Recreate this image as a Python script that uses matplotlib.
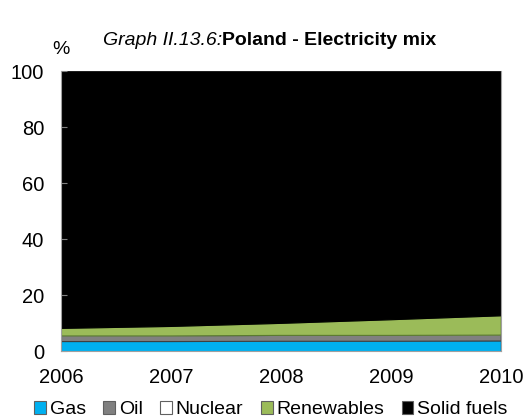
import matplotlib.pyplot as plt
from matplotlib.patches import Patch
import numpy as np

plt.rcParams['font.family'] = ['Liberation Sans', 'DejaVu Sans']

years = [2006, 2007, 2008, 2009, 2010]
gas = [3.6, 3.6, 3.7, 3.7, 3.8]
oil = [2.0, 2.0, 2.1, 2.1, 2.1]
nuclear = [0.0, 0.0, 0.0, 0.0, 0.0]
renewables = [2.7, 3.4, 4.3, 5.6, 6.9]
solid = [100 - a - b - c - d for a, b, c, d in zip(gas, oil, nuclear, renewables)]

labels = ['Gas', 'Oil', 'Nuclear', 'Renewables', 'Solid fuels']
colors = ['#00b0f0', '#808080', '#ffffff', '#9bbb59', '#000000']
edges = ['#0070a0', '#404040', '#808080', '#5a7a30', '#000000']

fig = plt.figure(figsize=(5.26, 4.19), dpi=100)
ax = fig.add_axes([0.116, 0.162, 0.836, 0.668])

polys = ax.stackplot(years, gas, oil, nuclear, renewables, solid, colors=colors)
for p, e in zip(polys, edges):
    p.set_edgecolor(e)
    p.set_linewidth(0.8)

ax.set_xlim(2006, 2010)
ax.set_ylim(0, 100)
ax.set_xticks(years)
ax.set_yticks([0, 20, 40, 60, 80, 100])
ax.tick_params(axis='both', labelsize=14.5, direction='in', length=4, color='#808080')
ax.tick_params(axis='y', pad=12)
ax.tick_params(axis='x', length=0, pad=12)
for s in ax.spines.values():
    s.set_color('#a0a0a0')
ax.spines['top'].set_visible(False)

fig.text(0.099, 0.87, '%', fontsize=14)
fig.text(0.422, 0.893, 'Graph II.13.6:', fontsize=14, style='italic', ha='right')
fig.text(0.422, 0.893, 'Poland - Electricity mix', fontsize=14, weight='bold', ha='left')

handles = [Patch(facecolor=c, edgecolor='#606060', linewidth=0.8) for c in colors]
fig.legend(handles, labels, loc='lower center', bbox_to_anchor=(0.515, -0.04), ncol=5,
           frameon=False, fontsize=14, handlelength=0.6, handleheight=0.6,
           handletextpad=0.2, columnspacing=0.9)

plt.savefig('out.png', dpi=100)
